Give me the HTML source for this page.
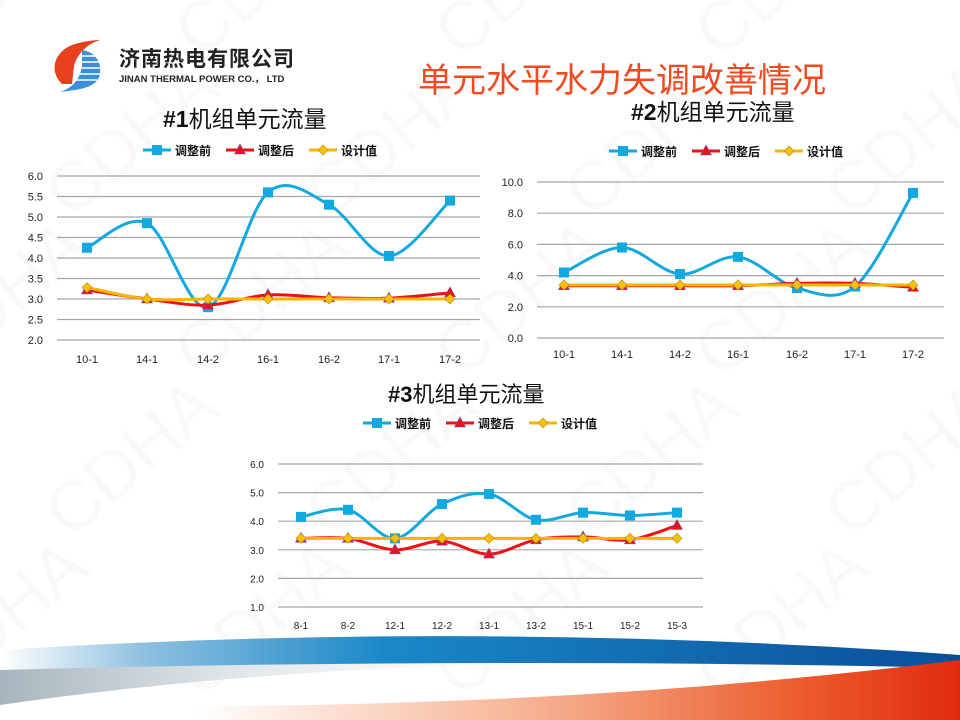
<!DOCTYPE html>
<html><head><meta charset="utf-8">
<style>
html,body{margin:0;padding:0;background:#fff;}
#c{position:relative;width:960px;height:720px;overflow:hidden;font-family:"Liberation Sans","Noto Sans CJK SC",sans-serif;}
svg text{font-family:"Liberation Sans","Noto Sans CJK SC",sans-serif;}
</style></head><body>
<div id="c">
<svg id="s" width="960" height="720" viewBox="0 0 960 720" xmlns="http://www.w3.org/2000/svg">
<defs>
<linearGradient id="gb" x1="0" x2="1" y1="0" y2="0">
<stop offset="0" stop-color="#ffffff"/><stop offset="0.15" stop-color="#8fc0e0"/><stop offset="0.4" stop-color="#1a88c8"/><stop offset="1" stop-color="#0a4e9a"/></linearGradient>
<linearGradient id="gg" x1="0" x2="1"><stop offset="0" stop-color="#a8b4bc"/><stop offset="0.35" stop-color="#dde3e7"/><stop offset="1" stop-color="#fff" stop-opacity="0"/></linearGradient>
<linearGradient id="gr" x1="0" x2="1"><stop offset="0" stop-color="#fff"/><stop offset="0.45" stop-color="#f6b090"/><stop offset="0.8" stop-color="#ec5a2a"/><stop offset="1" stop-color="#e02a10"/></linearGradient>
</defs>
<g id="wm" fill="#000" fill-opacity="0.025" font-size="70"></g>
<!-- bottom swooshes -->
<path d="M0,668 Q300,648 620,664 Q300,662 0,705 Z" fill="url(#gg)"/>
<path d="M0,650 Q480,620 960,655 L960,668 Q480,657 0,670 Z" fill="url(#gb)"/>
<path d="M200,706 Q600,705 960,660 L960,720 L200,720 Q190,712 200,706 Z" fill="url(#gr)"/>
<!-- logo -->
<path d="M62,84 C48,70 55,50 75,44 C85,41 95,40 100,40 C88,44 78,52 74,66 L72,84 Z" fill="#e8401c"/>
<path d="M82,50 C95,52 102,62 100,74 C98,84 88,88 75,90 L60,92 C72,88 80,80 82,66 Z" fill="#3a8fd8"/>
<g stroke="#fff" stroke-width="1.5"><line x1="82" y1="56" x2="100" y2="56"/><line x1="82" y1="62" x2="101" y2="62"/><line x1="82" y1="68" x2="101" y2="68"/><line x1="80" y1="74" x2="100" y2="74"/><line x1="76" y1="80" x2="97" y2="80"/></g>
<text x="119" y="66" font-size="21" font-weight="bold" fill="#222" letter-spacing="1">济南热电有限公司</text>
<text x="119" y="82" font-size="9.5" font-weight="bold" fill="#222">JINAN THERMAL POWER CO.， LTD</text>
<text x="418" y="92" font-size="34" fill="#f04a1e">单元水平水力失调改善情况</text>
<text x="163" y="127" font-size="23" fill="#111"><tspan font-weight="bold">#1</tspan>机组单元流量</text>
<text x="631" y="120" font-size="23" fill="#111"><tspan font-weight="bold">#2</tspan>机组单元流量</text>
<text x="388" y="402" font-size="22" fill="#111"><tspan font-weight="bold">#3</tspan>机组单元流量</text>
<g id="charts"></g>
</svg>
</div>
<script>
var NS="http://www.w3.org/2000/svg",G=document.getElementById('charts');
function el(t,a,p){var e=document.createElementNS(NS,t);for(var k in a)e.setAttribute(k,a[k]);(p||G).appendChild(e);return e;}
var wm=document.getElementById('wm');
for(var r=0;r<5;r++)for(var c=0;c<4;c++){var x=-60+c*260+(r%2)*130,y=60+r*160;var t=el('text',{x:x,y:y,transform:'rotate(-40 '+x+' '+y+')'},wm);t.textContent='CDHA';}
function smooth(p){var d='M'+p[0][0]+','+p[0][1];for(var i=0;i<p.length-1;i++){var p0=p[i-1]||p[i],p1=p[i],p2=p[i+1],p3=p[i+2]||p2;var t=1/6;d+=' C'+(p1[0]+(p2[0]-p0[0])*t)+','+(p1[1]+(p2[1]-p0[1])*t)+' '+(p2[0]-(p3[0]-p1[0])*t)+','+(p2[1]-(p3[1]-p1[1])*t)+' '+p2[0]+','+p2[1];}return d;}
function chart(o){
 for(var i=0;i<o.ticks.length;i++){var v=o.ticks[i],y=o.y0+(v-o.v0)*(o.y1-o.y0)/(o.v1-o.v0);
  el('line',{x1:o.gx0,x2:o.gx1,y1:y,y2:y,stroke:'#a6a6a6','stroke-width':1.2});
  var t=el('text',{x:o.gx0-14,y:y+4,'font-size':o.fs,'text-anchor':'end',fill:'#222'});t.textContent=v.toFixed(1);}
 for(var i=0;i<o.cats.length;i++){var t=el('text',{x:o.xs[i],y:o.ly,'font-size':o.fs,'text-anchor':'middle',fill:'#222'});t.textContent=o.cats[i];}
 function Y(v){return o.y0+(v-o.v0)*(o.y1-o.y0)/(o.v1-o.v0);}
 var S=[{d:o.a,c:'#12a8e0',m:'sq'},{d:o.b,c:'#ee1111',m:'tri'},{d:o.c,c:'#f8b400',m:'dia'}];
 S.forEach(function(s){var p=s.d.map(function(v,i){return[o.xs[i],Y(v)];});
  el('path',{d:smooth(p),fill:'none',stroke:s.c,'stroke-width':3});
  p.forEach(function(q){mark(q[0],q[1],s.m);});});
 var lx=o.lgx,ly=o.lgy;
 [['调整前','#12a8e0','sq'],['调整后','#ee1111','tri'],['设计值','#f8b400','dia']].forEach(function(l,i){var x=lx+i*83;
  el('line',{x1:x,x2:x+28,y1:ly,y2:ly,stroke:l[1],'stroke-width':3});mark(x+14,ly,l[2]);
  var t=el('text',{x:x+32,y:ly+5,'font-size':12,'font-weight':'bold',fill:'#111'});t.textContent=l[0];});
}
function mark(x,y,m){
 if(m=='sq')el('rect',{x:x-5,y:y-5,width:10,height:10,fill:'#12a8e0'});
 else if(m=='tri')el('path',{d:'M'+x+','+(y-6)+' L'+(x+5.5)+','+(y+4)+' L'+(x-5.5)+','+(y+4)+'Z',fill:'#ee1111',stroke:'#6a5acd','stroke-width':0.6});
 else el('path',{d:'M'+x+','+(y-5)+' L'+(x+5)+','+y+' L'+x+','+(y+5)+' L'+(x-5)+','+y+'Z',fill:'#f8c000',stroke:'#b08a20','stroke-width':0.6});
}
chart({ticks:[2,2.5,3,3.5,4,4.5,5,5.5,6],v0:2,v1:6,y0:340,y1:176,gx0:57,gx1:480,fs:11,ly:363,
 xs:[87,147,208,268,329,389,450],cats:['10-1','14-1','14-2','16-1','16-2','17-1','17-2'],
 a:[4.25,4.85,2.8,5.6,5.3,4.05,5.4],b:[3.22,3.0,2.85,3.1,3.03,3.02,3.15],c:[3.28,3.0,3.0,3.0,3.0,3.0,3.0],lgx:143,lgy:150});
chart({ticks:[0,2,4,6,8,10],v0:0,v1:10,y0:338,y1:182,gx0:537,gx1:944,fs:11,ly:358,
 xs:[564,622,680,738,797,855,913],cats:['10-1','14-1','14-2','16-1','16-2','17-1','17-2'],
 a:[4.2,5.8,4.1,5.2,3.2,3.3,9.3],b:[3.35,3.35,3.35,3.35,3.5,3.5,3.25],c:[3.4,3.4,3.4,3.4,3.4,3.4,3.4],lgx:609,lgy:151});
chart({ticks:[1,2,3,4,5,6],v0:1,v1:6,y0:607,y1:464,gx0:278,gx1:703,fs:10,ly:629,
 xs:[301,348,395,442,489,536,583,630,677],cats:['8-1','8-2','12-1','12-2','13-1','13-2','15-1','15-2','15-3'],
 a:[4.15,4.4,3.4,4.6,4.95,4.05,4.3,4.2,4.3],b:[3.4,3.4,3.0,3.3,2.85,3.35,3.45,3.35,3.85],c:[3.4,3.4,3.4,3.4,3.4,3.4,3.4,3.4,3.4],lgx:363,lgy:423});
</script>
</body></html>
